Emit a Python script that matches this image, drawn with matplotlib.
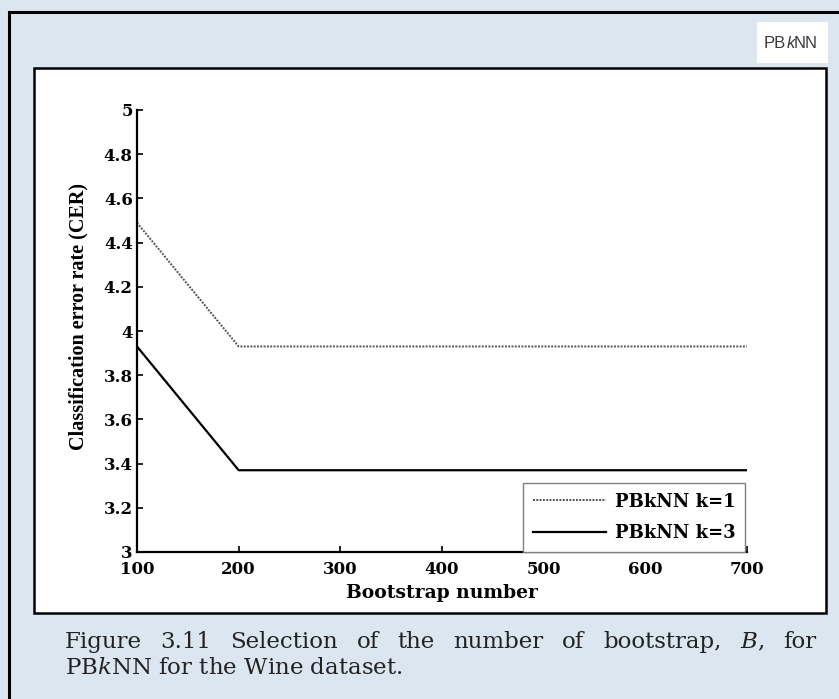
import matplotlib
matplotlib.use("Agg")
import matplotlib.pyplot as plt
from matplotlib.patches import Rectangle

plt.rcParams["mathtext.fontset"] = "dejavuserif"

# values
bootstrap = [100, 200, 300, 400, 500, 600, 700]
cer_k1 = [4.49, 3.93, 3.93, 3.93, 3.93, 3.93, 3.93]
cer_k3 = [3.93, 3.37, 3.37, 3.37, 3.37, 3.37, 3.37]
xticks = [100, 200, 300, 400, 500, 600, 700]
yticks = [3, 3.2, 3.4, 3.6, 3.8, 4, 4.2, 4.4, 4.6, 4.8, 5]
ytick_labels = ["3", "3.2", "3.4", "3.6", "3.8", "4", "4.2", "4.4", "4.6", "4.8", "5"]
caption_words = ["Figure", "3.11", "Selection", "of", "the", "number", "of",
                 "bootstrap,", r"$\mathit{B}$,", "for"]
caption_line2 = r"PB$\mathit{k}$NN for the Wine dataset."

W, H = 839, 699
fig = plt.figure(figsize=(W / 100, H / 100), dpi=100)
fig.patch.set_facecolor("#dce6f1")
renderer = fig.canvas.get_renderer()

def fx(px):
    return px / W

def fy(py):
    return 1 - py / H

# outer frame of the figure box
fig.patches.append(Rectangle((fx(8.5), fy(720)), fx(860), fy(12) - fy(720),
                             transform=fig.transFigure, fill=False,
                             edgecolor="black", lw=2.2, zorder=-2))
# white panel holding the chart
fig.patches.append(Rectangle((fx(34), fy(613)), fx(826) - fx(34), fy(68) - fy(613),
                             transform=fig.transFigure, facecolor="white",
                             edgecolor="black", lw=1.8, zorder=-1))
# small "PBkNN" label in the corner
fig.patches.append(Rectangle((fx(757), fy(63)), fx(828) - fx(757), fy(22) - fy(63),
                             transform=fig.transFigure, facecolor="white",
                             edgecolor="none", zorder=-1))
x = 764
for part, style in [("PB", "normal"), ("k", "italic"), ("NN", "normal")]:
    t = fig.text(fx(x), fy(48), part, fontsize=12, color="#3a3a3a",
                 family="Liberation Sans", style=style)
    x += t.get_window_extent(renderer).width - (1 if style == "italic" else 0)

ax = fig.add_axes([fx(137), fy(552), fx(747) - fx(137), fy(110) - fy(552)])
ax.set_facecolor("white")

ax.plot(bootstrap, cer_k1, color="#555555", lw=1.4, linestyle=(0, (1, 0.7)),
        label="PBkNN k=1")
ax.plot(bootstrap, cer_k3, color="black", lw=1.6, label="PBkNN k=3")

ax.set_xlim(100, 700)
ax.set_ylim(3, 5)
ax.set_xticks(xticks)
ax.set_yticks(yticks)
ax.set_yticklabels(ytick_labels)

for s in ["top", "right"]:
    ax.spines[s].set_visible(False)
for s in ["left", "bottom"]:
    ax.spines[s].set_linewidth(1.6)

ax.tick_params(direction="in", length=4, width=1.2)
ax.tick_params(axis="x", pad=6.5)
ax.tick_params(axis="y", pad=3)
for lab in ax.get_xticklabels() + ax.get_yticklabels():
    lab.set_fontfamily("DejaVu Serif")
    lab.set_fontweight("bold")
    lab.set_fontsize(12)
ax.set_xlabel("Bootstrap number", fontsize=13.5, labelpad=4,
              family="DejaVu Serif", weight="bold")
ax.set_ylabel("Classification error rate (CER)", fontsize=14.5,
              family="Liberation Serif", weight="bold")
ax.yaxis.set_label_coords(-0.08, 0.532)

leg = ax.legend(loc="lower right", bbox_to_anchor=(0.997, 0), borderaxespad=0,
                handlelength=4.0, handletextpad=0.5,
                prop={"family": "DejaVu Serif", "weight": "bold", "size": 13},
                fancybox=False, edgecolor="#808080", framealpha=1,
                borderpad=0.55, labelspacing=0.75)
leg.get_frame().set_linewidth(1.0)

# caption below the chart, first line justified between x=65 and x=816
cap = {"family": "DejaVu Serif", "fontsize": 16.5, "color": "#222222"}
words = [fig.text(0, fy(648), w, **cap) for w in caption_words]
widths = [t.get_window_extent(renderer).width for t in words]
gap = (816 - 65 - sum(widths)) / (len(words) - 1)
x = 65
for t, w in zip(words, widths):
    t.set_x(fx(x))
    x += w + gap
fig.text(fx(65), fy(674), caption_line2, **cap)

fig.savefig("out.png", dpi=100, facecolor=fig.get_facecolor())
